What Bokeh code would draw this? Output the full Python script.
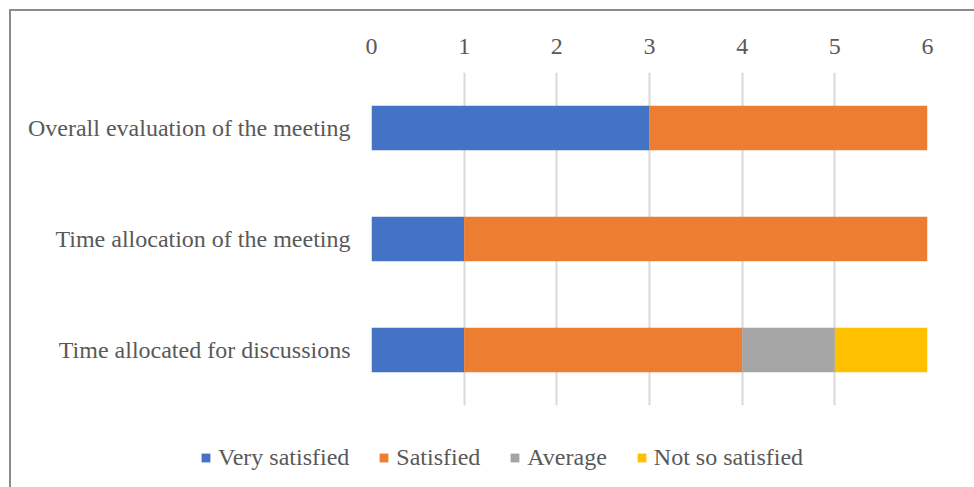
from bokeh.plotting import figure
from bokeh.models import Legend, LegendItem, FactorRange, Range1d
from bokeh.layouts import column
from bokeh.embed import file_html
from bokeh.resources import INLINE

categories = ["Time allocated for discussions", "Time allocation of the meeting", "Overall evaluation of the meeting"]
series_names = ["Very satisfied", "Satisfied", "Average", "Not so satisfied"]
very_satisfied = [1, 1, 3]
satisfied = [3, 5, 3]
average = [1, 0, 0]
not_so_satisfied = [1, 0, 0]
colors = ["#4472C4", "#ED7D31", "#A5A5A5", "#FFC000"]
x_ticks = [0, 1, 2, 3, 4, 5, 6]

FONT = "Liberation Serif"
TXT = "#595959"

p = figure(width=963, height=396, y_range=FactorRange(factors=categories, range_padding=0),
           x_range=(0, 6), output_backend="svg", toolbar_location=None,
           x_axis_location="above", min_border_left=360, min_border_right=47,
           min_border_top=61, min_border_bottom=2)
p.frame_align = False

data = dict(cat=categories)
for name, vals in zip(series_names, [very_satisfied, satisfied, average, not_so_satisfied]):
    data[name] = vals

p.hbar_stack(series_names, y="cat", height=0.4, color=colors, source=data, line_width=0)

p.outline_line_color = None
p.ygrid.grid_line_color = None
p.xgrid.grid_line_color = "#D9D9D9"
p.xgrid.grid_line_width = 2
p.xaxis.ticker = x_ticks
for ax in (p.xaxis, p.yaxis):
    ax.axis_line_color = None
    ax.major_tick_line_color = None
    ax.minor_tick_line_color = None
    ax.major_tick_out = 0
    ax.major_tick_in = 0
    ax.major_label_text_font = FONT
    ax.major_label_text_font_size = "24px"
    ax.major_label_text_color = TXT
p.xaxis.major_label_standoff = 19
p.yaxis.major_label_standoff = 21

# legend panel: a small figure holding only the legend (its bar renderers are hidden)
lp = figure(width=963, height=80, x_range=Range1d(0, 6),
            y_range=FactorRange(factors=categories, range_padding=0),
            output_backend="svg", toolbar_location=None, min_border=0)
lp.frame_align = False
lp.axis.visible = False
lp.grid.visible = False
lp.outline_line_color = None
swatches = lp.hbar_stack(series_names, y="cat", height=0.4, color=colors, source=data, line_width=0)
for r in swatches:
    r.visible = False
items = [LegendItem(label=n, renderers=[r]) for n, r in zip(series_names, swatches)]
legend = Legend(items=items, orientation="horizontal", location=(189, 16),
                glyph_width=11, glyph_height=11, label_standoff=7, spacing=29,
                padding=0, margin=0, border_line_color=None, background_fill_alpha=0,
                inactive_fill_alpha=0,
                label_text_font=FONT, label_text_font_size="24px", label_text_color=TXT)
lp.add_layout(legend, "center")

layout = column(p, lp, spacing=0, margin=(9, 0, 0, 9))
layout.styles = {"border-left": "2px solid #8c8c8c", "border-top": "2px solid #8c8c8c"}

open("out.html", "w").write(file_html(layout, INLINE))
